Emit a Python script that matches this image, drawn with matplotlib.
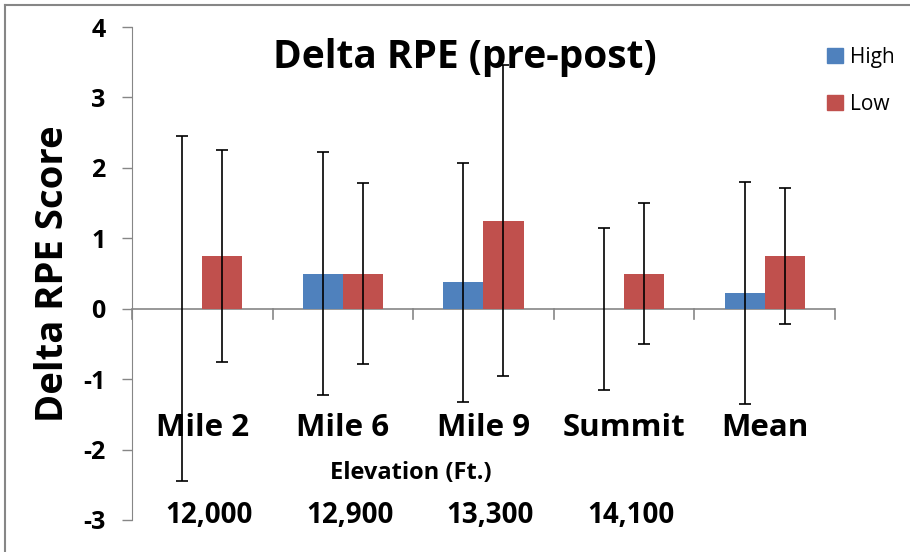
import matplotlib
matplotlib.use("Agg")
import matplotlib.pyplot as plt
from matplotlib.patches import Patch
from matplotlib.lines import Line2D

plt.rcParams['font.family'] = ['Open Sans', 'DejaVu Sans']

# data
cats = ["Mile 2", "Mile 6", "Mile 9", "Summit", "Mean"]
elev = ["12,000", "12,900", "13,300", "14,100"]
high = [0.0, 0.5, 0.375, 0.0, 0.22]
high_err = [2.45, 1.73, 1.70, 1.15, 1.58]
low = [0.75, 0.5, 1.25, 0.5, 0.75]
low_err = [1.5, 1.29, 2.21, 1.0, 0.96]
yticks = [-3, -2, -1, 0, 1, 2, 3, 4]

c_high = "#4F81BD"
c_low = "#C0504D"
gray = "#868686"

fig = plt.figure(figsize=(9.1, 5.52), dpi=100)
ax = fig.add_axes([0.145, 0.058, 0.7725, 0.893])

x = list(range(len(cats)))
w = 0.285
xh = [i - w / 2 for i in x]
xl = [i + w / 2 for i in x]
ax.bar(xh, high, w, color=c_high, zorder=2)
ax.bar(xl, low, w, color=c_low, zorder=2)
ekw = dict(fmt='none', ecolor='black', elinewidth=1.2, capsize=4, capthick=1.2, zorder=3)
ax.errorbar(xh, high, yerr=high_err, **ekw)
ax.errorbar(xl, low, yerr=low_err, **ekw)

ax.set_xlim(-0.5, len(cats) - 0.5)
ax.set_ylim(-3, 4)
ax.set_yticks(yticks)
ax.set_yticklabels([str(t) for t in yticks], fontsize=18, fontweight='bold')
ax.tick_params(axis='y', length=7, width=1, color=gray, pad=12)

for s in ['top', 'right', 'bottom']:
    ax.spines[s].set_visible(False)
ax.spines['left'].set_color(gray)
ax.set_xticks([])

# zero line with category ticks
ax.axhline(0, color=gray, lw=1.2, zorder=1)
for b in range(len(cats) + 1):
    ax.plot([b - 0.5, b - 0.5], [0, -0.14], color=gray, lw=1.2, clip_on=False, zorder=1)

for i, c in enumerate(cats):
    ax.text(i, -1.70, c, ha='center', va='center', fontsize=22.5, fontweight='bold')
for i, e in enumerate(elev):
    ax.text(i + 0.05, -2.93, e, ha='center', va='center', fontsize=20, fontweight='bold')
ax.text(1.48, -2.33, "Elevation (Ft.)", ha='center', va='center', fontsize=17, fontweight='bold')

ax.set_ylabel("Delta RPE Score", fontsize=27.5, fontweight='bold', labelpad=8)

fig.text(0.511, 0.895, "Delta RPE (pre-post)", ha='center', va='center', fontsize=28, fontweight='bold')

handles = [Patch(color=c_high, label="High"), Patch(color=c_low, label="Low")]
fig.legend(handles=handles, loc='upper left', bbox_to_anchor=(0.9, 0.93), frameon=False,
           fontsize=15, handlelength=0.75, handleheight=0.75, handletextpad=0.35, labelspacing=1.25,
           borderaxespad=0)

# outer chart border (top and left visible)
fig.add_artist(Line2D([0.0055, 1.0], [0.991, 0.991], color=gray, lw=1.5, transform=fig.transFigure))
fig.add_artist(Line2D([0.0055, 0.0055], [0.0, 0.991], color=gray, lw=1.5, transform=fig.transFigure))

fig.savefig("out.png", dpi=100)
